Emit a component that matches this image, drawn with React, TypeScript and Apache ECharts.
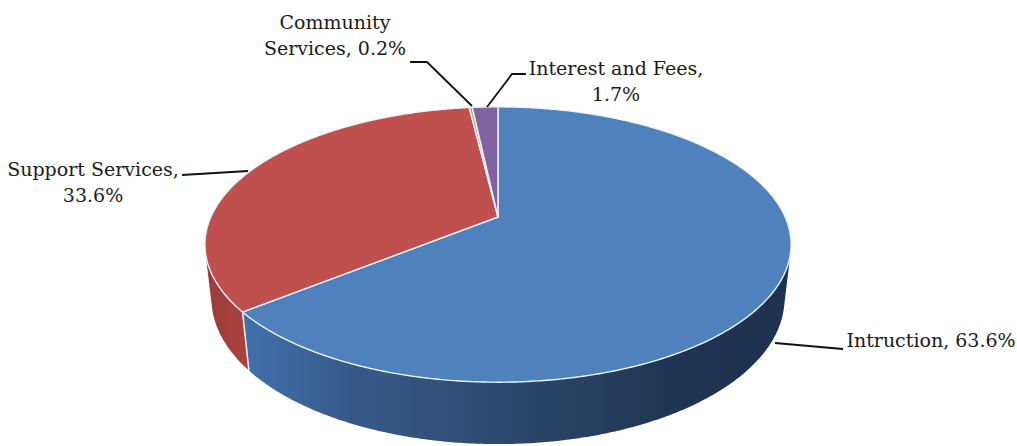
import React, { useEffect, useRef } from "react";
import * as echarts from "echarts";

// ---- data ----
const categories = ["Intruction", "Support Services", "Community Services", "Interest and Fees"];
const values = [63.6, 33.6, 0.2, 1.7];
const labelBreak = ["none", "value", "name", "value"];

// ---- style ----
const topColors = ["#4f81bd", "#c0504d", "#9bbb59", "#8064a2"];
const sideStops = [
  [
    [0, "#4170ab"],
    [0.2, "#37598a"],
    [0.55, "#2a4467"],
    [0.78, "#203553"],
    [1, "#1e3150"],
  ],
  [
    [0, "#9a3a38"],
    [1, "#ab4441"],
  ],
  [
    [0, "#7a9440"],
    [1, "#8aa64c"],
  ],
  [
    [0, "#624c80"],
    [1, "#6f5690"],
  ],
];

// ---- projection (perspective view of a tilted cylinder) ----
const X0 = 498;
const Y0 = 217;
const DIST = 4.44;
const TILT = (27.4 * Math.PI) / 180;
const FOCAL = 1275;
const HEIGHT = 0.214;
const C = Math.cos(TILT);
const S = Math.sin(TILT);
const VIS_HALF = (Math.acos(1 / (DIST * C)) * 180) / Math.PI;
const VIS0 = 180 - VIS_HALF;
const VIS1 = 180 + VIS_HALF;

function proj(deg: number, r: number, z: number): number[] {
  const t = (deg * Math.PI) / 180;
  const x = r * Math.sin(t);
  const y = r * Math.cos(t);
  const d = DIST + y * C - z * S;
  return [X0 + (FOCAL * x) / d, Y0 - (FOCAL * (y * S + z * C)) / d];
}

function arc(a: number, b: number, z: number): number[][] {
  const pts: number[][] = [];
  const n = Math.max(1, Math.ceil((b - a) / 0.5));
  for (let k = 0; k <= n; k++) pts.push(proj(a + ((b - a) * k) / n, 1, z));
  return pts;
}

const total = values.reduce((s, v) => s + v, 0);
const starts: number[] = [];
{
  let acc = 0;
  for (const v of values) {
    starts.push((acc / total) * 360);
    acc += v;
  }
}

function labelText(i: number): string {
  const v = values[i].toFixed(1) + "%";
  const name = categories[i];
  if (labelBreak[i] === "value") return `${name},\n${v}`;
  if (labelBreak[i] === "name") {
    const sp = name.indexOf(" ");
    return `${name.slice(0, sp)}\n${name.slice(sp + 1)}, ${v}`;
  }
  return `${name}, ${v}`;
}

// label layout: [x, y, align]
const labelPos: [number, number, string][] = [
  [931, 340, "center"],
  [93, 182, "center"],
  [335, 35, "center"],
  [616, 81, "center"],
];
const leaderLines: number[][][] = [
  [
    [775, 343],
    [843, 349],
  ],
  [
    [182, 175],
    [248, 171],
  ],
  [
    [410, 62],
    [427, 62],
    [472, 106],
  ],
  [
    [487, 107],
    [512, 74],
    [526, 74],
  ],
];

export default function App() {
  const ref = useRef<HTMLDivElement>(null);
  useEffect(() => {
    if (!ref.current) return;
    const chart = echarts.init(ref.current, undefined, { renderer: "svg" });
    const graphics: any[] = [];
    leaderLines.forEach((pts) => {
      graphics.push({
        type: "polyline",
        shape: { points: pts },
        style: { stroke: "#111", lineWidth: 1.8, fill: null },
        z: 10,
      });
    });
    labelPos.forEach(([x, y, align], i) => {
      graphics.push({
        type: "text",
        x,
        y,
        style: {
          text: labelText(i),
          fontSize: 19,
          fontFamily: "DejaVu Serif",
          fill: "#1a1a1a",
          align,
          verticalAlign: "middle",
          lineHeight: 26,
        },
        z: 10,
      });
    });

    chart.setOption({
      animation: false,
      backgroundColor: "#ffffff",
      graphic: { elements: graphics },
      series: [
        {
          type: "custom",
          coordinateSystem: "none",
          silent: true,
          data: values.map((v, i) => ({ value: v, name: categories[i] })),
          renderItem: (params: any, api: any) => {
            const i = params.dataIndex;
            const a = starts[i];
            const b = a + (api.value(0) / total) * 360;
            const children: any[] = [];
            const wa = Math.max(a, VIS0);
            const wb = Math.min(b, VIS1);
            if (wb > wa) {
              const top = arc(wa, wb, 0);
              const bot = arc(wa, wb, -HEIGHT).reverse();
              children.push({
                type: "polygon",
                shape: { points: top.concat(bot) },
                style: {
                  fill: new echarts.graphic.LinearGradient(
                    0,
                    0,
                    1,
                    0,
                    sideStops[i].map(([o, c]) => ({ offset: o as number, color: c as string }))
                  ),
                  stroke: null,
                },
              });
              if (a > VIS0 && a < VIS1) {
                const p1 = proj(a, 1, 0);
                const p2 = proj(a, 1, -HEIGHT);
                children.push({
                  type: "line",
                  shape: { x1: p1[0], y1: p1[1], x2: p2[0], y2: p2[1] },
                  style: { stroke: "#f4f4f4", lineWidth: 1.5 },
                  z2: 5,
                });
              }
            }
            const center = proj(0, 0, 0);
            children.push({
              type: "polygon",
              shape: { points: [center].concat(arc(a, b, 0)) },
              style: { fill: topColors[i], stroke: "#eef3fa", lineWidth: 1.4, lineJoin: "round" },
              z2: 10,
            });
            return { type: "group", children };
          },
        },
      ],
    });
    return () => chart.dispose();
  }, []);
  return (
    <div
      ref={ref}
      style={{ position: "fixed", left: 0, top: 0, width: 1017, height: 446, background: "#fff" }}
    />
  );
}
